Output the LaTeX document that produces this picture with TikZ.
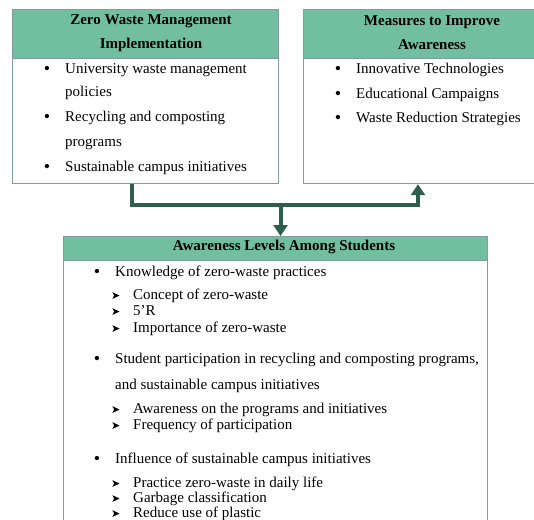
\documentclass[tikz,border=0pt]{standalone}
\usepackage{fontspec}
\setmainfont{Liberation Serif}
\newfontfamily\dingfont{DejaVu Sans}
\usetikzlibrary{arrows.meta}

\definecolor{headgreen}{RGB}{114,191,159}
\definecolor{boxline}{RGB}{126,156,162}
\definecolor{linkgreen}{RGB}{45,95,76}

\begin{document}
\begin{tikzpicture}[x=1bp,y=-1bp,
    panel/.style={draw=boxline,line width=1.2bp,fill=white,anchor=north west,inner sep=0pt},
    headbar/.style={draw=boxline,line width=1.2bp,fill=headgreen,anchor=north west,inner sep=0pt},
    title/.style={font=\fontsize{15bp}{24bp}\selectfont\bfseries,align=center,inner sep=0pt},
    item/.style={font=\fontsize{15bp}{18bp}\selectfont,anchor=base west,inner sep=0pt},
    dot/.style={font=\fontsize{18bp}{18bp}\selectfont,anchor=base,inner sep=0pt,yshift=-1bp},
    tip/.style={font=\dingfont\fontsize{11bp}{12bp}\selectfont,anchor=base west,inner sep=0pt},
    link/.style={draw=linkgreen,line width=4bp,-{Triangle[width=14bp,length=11bp]}}]

    \useasboundingbox (0,0) rectangle (534,520);
    \clip (0,0) rectangle (534,520);

    % Zero waste management box
    \node[panel,minimum width=266bp,minimum height=174bp] (zwm) at (12,9) {};
    \node[headbar,minimum width=266bp,minimum height=49bp] (zwmhead) at (12,9) {};
    \node[title] (zwmtitle) at (151,33) {Zero Waste Management\\Implementation};
    \node[dot] (zwmdot1) at (47,74) {•};
    \node[item] (zwm1) at (65,74) {University waste management};
    \node[item] (zwm1b) at (65,97) {policies};
    \node[dot] (zwmdot2) at (47,122) {•};
    \node[item] (zwm2) at (65,122) {Recycling and composting};
    \node[item] (zwm2b) at (65,147) {programs};
    \node[dot] (zwmdot3) at (47,172) {•};
    \node[item] (zwm3) at (65,172) {Sustainable campus initiatives};

    % Measures box
    \node[panel,minimum width=260bp,minimum height=174bp] (mia) at (303,9) {};
    \node[headbar,minimum width=260bp,minimum height=49bp] (miahead) at (303,9) {};
    \node[title] (miatitle) at (432,33) {Measures to Improve\\Awareness};
    \node[dot] (miadot1) at (338,74) {•};
    \node[item] (mia1) at (356,74) {Innovative Technologies};
    \node[dot] (miadot2) at (338,99) {•};
    \node[item] (mia2) at (356,99) {Educational Campaigns};
    \node[dot] (miadot3) at (338,123) {•};
    \node[item] (mia3) at (356,123) {Waste Reduction Strategies};

    % Awareness levels box
    \node[panel,minimum width=424bp,minimum height=330bp] (als) at (63,236) {};
    \node[headbar,minimum width=424bp,minimum height=24bp] (alshead) at (63,236) {};
    \node[title] (alstitle) at (284,247) {Awareness Levels Among Students};

    % knowledge
    \node[dot] (alsdot1) at (97,276) {•};
    \node[item] (als1) at (115,276) {Knowledge of zero-waste practices};
    \node[tip] (alstip1) at (111,299) {➤};
    \node[item] (als1a) at (133,299) {Concept of zero-waste};
    \node[tip] (alstip2) at (111,315) {➤};
    \node[item] (als1b) at (133,315) {5'R};
    \node[tip] (alstip3) at (111,332) {➤};
    \node[item] (als1c) at (133,332) {Importance of zero-waste};

    % participation
    \node[dot] (alsdot2) at (97,363) {•};
    \node[item] (als2) at (115,363) {Student participation in recycling and composting programs,};
    \node[item] (als2x) at (115,389) {and sustainable campus initiatives};
    \node[tip] (alstip4) at (111,413) {➤};
    \node[item] (als2a) at (133,413) {Awareness on the programs and initiatives};
    \node[tip] (alstip5) at (111,429) {➤};
    \node[item] (als2b) at (133,429) {Frequency of participation};

    % influence
    \node[dot] (alsdot3) at (97,463) {•};
    \node[item] (als3) at (115,463) {Influence of sustainable campus initiatives};
    \node[tip] (alstip6) at (111,487) {➤};
    \node[item] (als3a) at (133,487) {Practice zero-waste in daily life};
    \node[tip] (alstip7) at (111,502) {➤};
    \node[item] (als3b) at (133,502) {Garbage classification};
    \node[tip] (alstip8) at (111,517) {➤};
    \node[item] (als3c) at (133,517) {Reduce use of plastic};

    % Connectors
    \coordinate (jl) at (132,205);
    \coordinate (jr) at (418,205);
    \coordinate (jm) at (280.5,205);
    \draw[link] (jl |- zwm.south) -- (jl) -- (jr) -- (jr |- mia.south);
    \draw[link] (jm) -- (jm |- als.north);
\end{tikzpicture}
\end{document}
